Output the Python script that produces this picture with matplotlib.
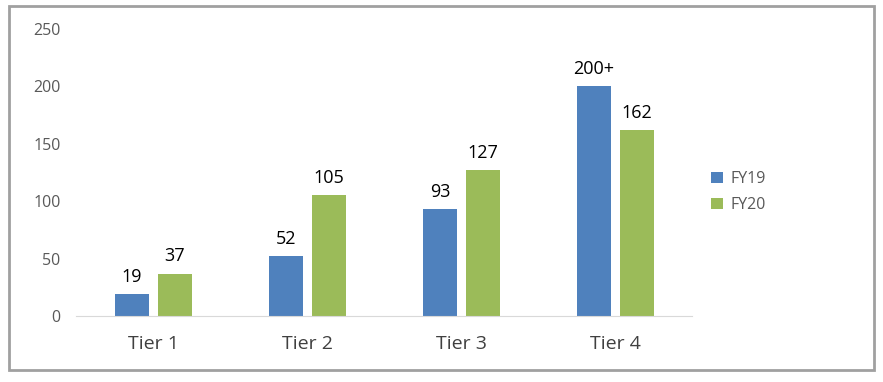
import matplotlib
matplotlib.use("Agg")
import matplotlib.pyplot as plt
import numpy as np
from matplotlib.patches import Rectangle

tiers = ["Tier 1", "Tier 2", "Tier 3", "Tier 4"]
fy19 = [19, 52, 93, 200]
fy20 = [37, 105, 127, 162]
fy19_labels = ["19", "52", "93", "200+"]
fy20_labels = ["37", "105", "127", "162"]
yticks = [0, 50, 100, 150, 200, 250]

blue = "#4F81BD"
green = "#9BBB59"

plt.rcParams['font.family'] = ['Open Sans', 'DejaVu Sans']

fig = plt.figure(figsize=(8.83, 3.82), dpi=100)
ax = fig.add_axes([76 / 883, 1 - 316 / 382, 616 / 883, (316 - 29) / 382])

x = np.arange(len(tiers))
w = 0.22
b1 = ax.bar(x - 0.137, fy19, w, color=blue, label="FY19")
b2 = ax.bar(x + 0.143, fy20, w, color=green, label="FY20")

for rect, lab in zip(b1, fy19_labels):
    ax.annotate(lab, (rect.get_x() + rect.get_width() / 2, rect.get_height()),
                xytext=(0, 6), textcoords="offset points", ha="center", va="bottom",
                fontsize=13, color="black")
for rect, lab in zip(b2, fy20_labels):
    ax.annotate(lab, (rect.get_x() + rect.get_width() / 2, rect.get_height()),
                xytext=(0, 6), textcoords="offset points", ha="center", va="bottom",
                fontsize=13, color="black")

ax.set_xlim(-0.5, 3.5)
ax.set_ylim(0, 250)
ax.set_yticks(yticks)
ax.set_xticks(x)
ax.set_xticklabels(tiers, fontsize=14, color="#404040")
ax.tick_params(axis="y", length=0, pad=11, labelsize=11.5, labelcolor="#595959")
ax.tick_params(axis="x", length=0, pad=14)
for s in ["top", "right", "left"]:
    ax.spines[s].set_visible(False)
ax.spines["bottom"].set_color("#D9D9D9")

fig.legend(handles=[b1, b2], loc="upper left", bbox_to_anchor=(697 / 883, 1 - 157 / 382),
           frameon=False, fontsize=11.5, labelcolor="#595959", handlelength=0.7,
           handleheight=0.7, handletextpad=0.5, labelspacing=0.6)

fig.patches.append(Rectangle((9 / 883, 12 / 382), 865 / 883, 364 / 382,
                             transform=fig.transFigure, fill=False,
                             edgecolor="#A0A0A0", linewidth=2))

fig.savefig("out.png", dpi=100)
